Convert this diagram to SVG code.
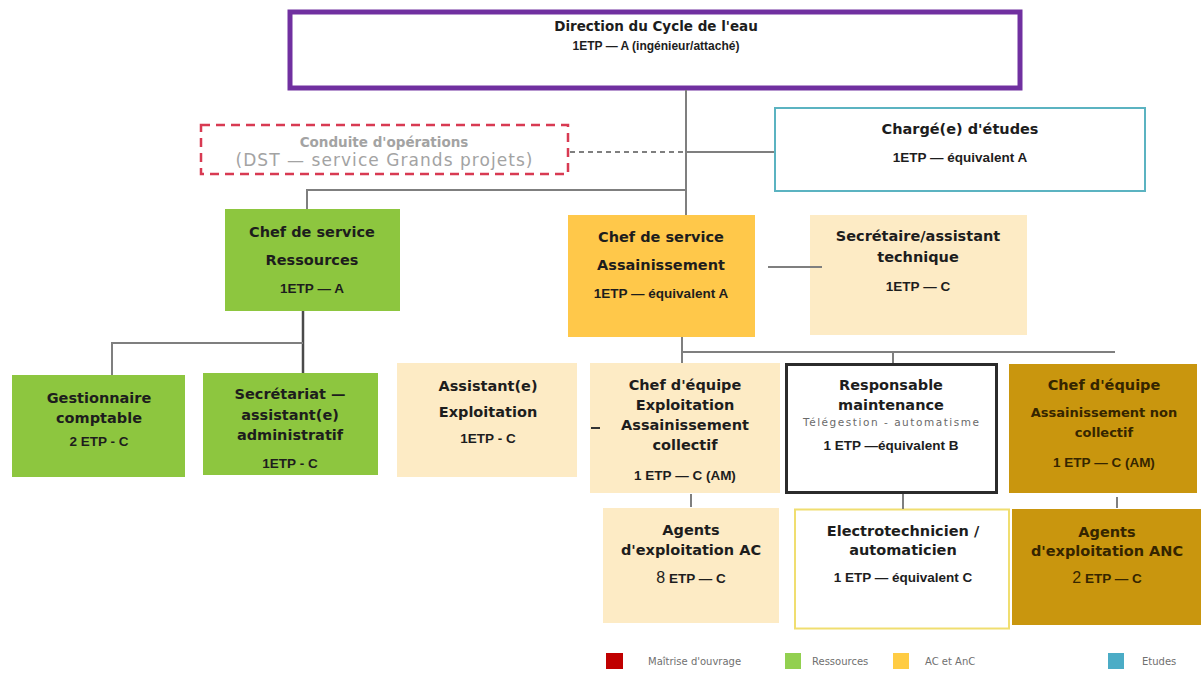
<svg xmlns="http://www.w3.org/2000/svg" width="1201" height="673" viewBox="0 0 1201 673">
<style>
text{font-family:"DejaVu Sans","Liberation Sans",sans-serif;text-anchor:middle;fill:#1d1d1d}
.h{font-weight:bold;font-size:14.5px}
.e{font-family:"Liberation Sans","DejaVu Sans",sans-serif;font-weight:bold;font-size:13.5px}
.ln{stroke:#7f7f7f;stroke-width:2;fill:none}
.green{fill:#8DC63F}
.orange{fill:#FFC84A}
.light{fill:#FDEBC5}
.gold{fill:#C9960E}
.gt text{fill:#352500}
.gray text{fill:#a3a3a3}
.lg{font-size:10px;fill:#707070;text-anchor:start}
</style>
<rect width="1201" height="673" fill="#ffffff"/>

<g id="direction">
<rect x="290" y="12" width="730" height="76" fill="#ffffff" stroke="#7030A0" stroke-width="5"/>
<text x="656" y="31" class="h" style="font-size:13.5px">Direction du Cycle de l'eau</text>
<text x="656" y="50" class="e" style="font-size:12px">1ETP — A (ingénieur/attaché)</text>
</g>

<g id="conduite" class="gray">
<rect x="201" y="125" width="367" height="49" fill="#ffffff" stroke="#D83A52" stroke-width="2.5" stroke-dasharray="9 6"/>
<text x="384" y="147" class="h" style="font-size:13.5px">Conduite d'opérations</text>
<text x="384" y="166" style="font-size:17px" textLength="297">(DST — service Grands projets)</text>
</g>

<g id="charge-etudes">
<rect x="775" y="108" width="370" height="83" fill="#ffffff" stroke="#5BB3C1" stroke-width="2"/>
<text x="960" y="134" class="h">Chargé(e) d'études</text>
<text x="960" y="162" class="e">1ETP — équivalent A</text>
</g>

<g id="chef-ressources">
<rect x="225" y="209" width="175" height="102" class="green"/>
<text x="312" y="237" class="h">Chef de service</text>
<text x="312" y="265" class="h">Ressources</text>
<text x="312" y="293" class="e">1ETP — A</text>
</g>

<g id="gestionnaire">
<rect x="12" y="375" width="173" height="102" class="green"/>
<text x="99" y="403" class="h">Gestionnaire</text>
<text x="99" y="423" class="h">comptable</text>
<text x="99" y="446" class="e">2 ETP - C</text>
</g>

<g id="secretariat">
<rect x="203" y="373" width="175" height="102" class="green"/>
<text x="290" y="399" class="h">Secrétariat —</text>
<text x="290" y="420" class="h">assistant(e)</text>
<text x="290" y="440" class="h">administratif</text>
<text x="290" y="468" class="e">1ETP - C</text>
</g>

<g id="chef-assainissement">
<rect x="568" y="215" width="187" height="122" class="orange"/>
<text x="661" y="242" class="h">Chef de service</text>
<text x="661" y="270" class="h">Assainissement</text>
<text x="661" y="298" class="e">1ETP — équivalent A</text>
</g>

<g id="secretaire-technique">
<rect x="810" y="215" width="217" height="120" class="light"/>
<text x="918" y="241" class="h">Secrétaire/assistant</text>
<text x="918" y="262" class="h">technique</text>
<text x="918" y="291" class="e">1ETP — C</text>
</g>

<g id="assistant-exploitation">
<rect x="397" y="363" width="180" height="114" class="light"/>
<text x="488" y="391" class="h">Assistant(e)</text>
<text x="488" y="417" class="h">Exploitation</text>
<text x="488" y="443" class="e">1ETP - C</text>
</g>

<g id="chef-equipe-ac">
<rect x="590" y="363" width="190" height="130" class="light"/>
<text x="685" y="390" class="h">Chef d'équipe</text>
<text x="685" y="410" class="h">Exploitation</text>
<text x="685" y="430" class="h">Assainissement</text>
<text x="685" y="450" class="h">collectif</text>
<text x="685" y="480" class="e">1 ETP — C (AM)</text>
</g>

<g id="agents-ac">
<rect x="603" y="508" width="176" height="115" class="light"/>
<text x="691" y="535" class="h">Agents</text>
<text x="691" y="555" class="h">d'exploitation AC</text>
<text x="691" y="583" class="e"><tspan style="font-size:16px;font-weight:normal">8</tspan> ETP — C</text>
</g>

<g id="responsable-maintenance">
<rect x="786.5" y="364.5" width="210" height="128" fill="#ffffff" stroke="#2b2b2b" stroke-width="3"/>
<text x="891" y="390" class="h">Responsable</text>
<text x="891" y="410" class="h">maintenance</text>
<text x="891" y="426" style="font-size:10.5px;fill:#6a6a6a" textLength="176">Télégestion - automatisme</text>
<text x="891" y="450" class="e">1 ETP —équivalent B</text>
</g>

<g id="electrotechnicien">
<rect x="795" y="509.5" width="214" height="119" fill="#ffffff" stroke="#F0DE70" stroke-width="2"/>
<text x="903" y="536" class="h">Electrotechnicien /</text>
<text x="903" y="555" class="h">automaticien</text>
<text x="903" y="582" class="e">1 ETP — équivalent C</text>
</g>

<g id="chef-equipe-anc" class="gt">
<rect x="1009" y="364" width="188" height="129" class="gold"/>
<text x="1104" y="390" class="h">Chef d'équipe</text>
<text x="1104" y="417" class="h" style="font-size:13px">Assainissement non</text>
<text x="1104" y="437" class="h" style="font-size:13px">collectif</text>
<text x="1104" y="467" class="e">1 ETP — C (AM)</text>
</g>

<g id="agents-anc" class="gt">
<rect x="1012" y="509" width="189" height="116" class="gold"/>
<text x="1107" y="537" class="h">Agents</text>
<text x="1107" y="556" class="h">d'exploitation ANC</text>
<text x="1107" y="583" class="e"><tspan style="font-size:16px;font-weight:normal">2</tspan> ETP — C</text>
</g>

<g id="connectors">
<line x1="686" y1="90" x2="686" y2="215" class="ln"/>
<polyline points="686,190 307,190 307,209" class="ln"/>
<line x1="570" y1="152" x2="686" y2="152" class="ln" stroke-dasharray="5 4"/>
<line x1="686" y1="152" x2="774" y2="152" class="ln"/>
<line x1="303" y1="311" x2="303" y2="373" class="ln" style="stroke:#4a4a4a;stroke-width:2.5"/>
<polyline points="303,343 112,343 112,375" class="ln"/>
<line x1="768" y1="267" x2="822" y2="267" class="ln"/>
<line x1="682" y1="337" x2="682" y2="363" class="ln"/>
<line x1="682" y1="352" x2="1115" y2="352" class="ln"/>
<line x1="893" y1="352" x2="893" y2="363" class="ln"/>
<line x1="691" y1="494" x2="691" y2="507" class="ln"/>
<line x1="903" y1="494" x2="903" y2="509" class="ln"/>
<line x1="1117" y1="497" x2="1117" y2="508" class="ln"/>
<line x1="591" y1="428" x2="600" y2="428" class="ln" style="stroke:#333"/>
</g>

<g id="legend">
<rect x="606" y="653" width="17" height="16" fill="#C00000"/>
<text x="648" y="665" class="lg">Maîtrise d'ouvrage</text>
<rect x="785" y="653" width="16" height="16" fill="#92D050"/>
<text x="812" y="665" class="lg">Ressources</text>
<rect x="893" y="653" width="16" height="16" fill="#FFCC44"/>
<text x="925" y="665" class="lg">AC et AnC</text>
<rect x="1108" y="653" width="16" height="16" fill="#4BACC6"/>
<text x="1142" y="665" class="lg">Etudes</text>
</g>
</svg>
